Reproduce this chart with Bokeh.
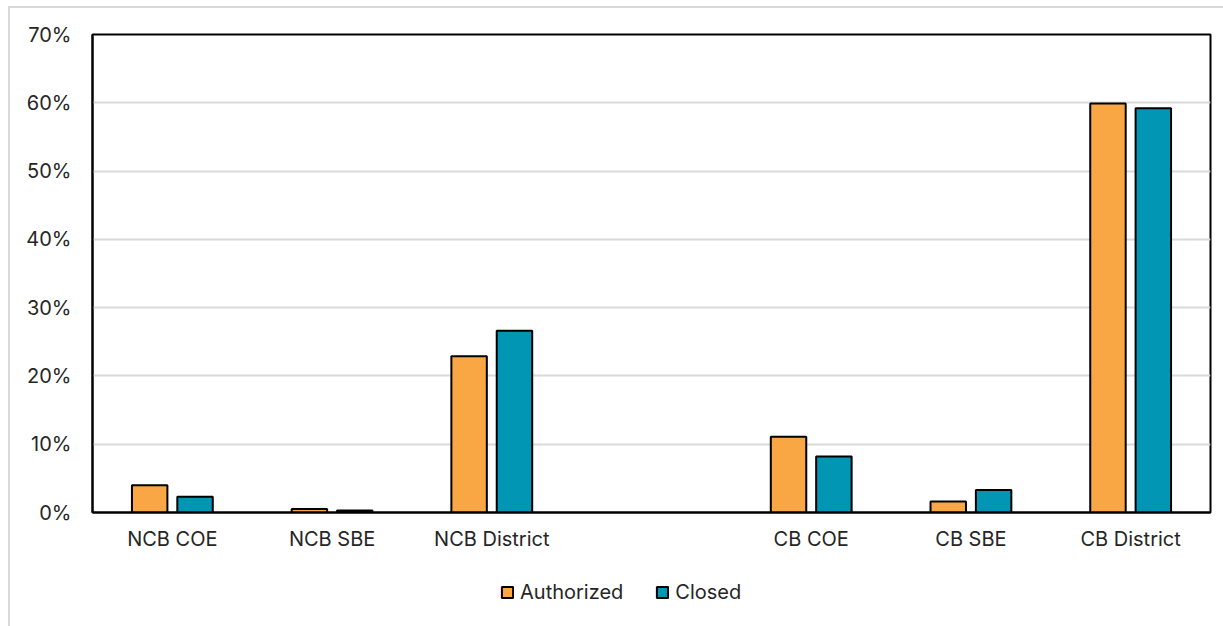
from bokeh.plotting import figure
from bokeh.layouts import column
from bokeh.models import FactorRange, Legend, LegendItem, PrintfTickFormatter, ColumnDataSource, FixedTicker
from bokeh.transform import dodge
from bokeh.embed import file_html
from bokeh.resources import INLINE

# Slot order along the axis; the blank slot separates the NCB and CB groups
axis_factors = ["NCB COE", "NCB SBE", "NCB District", " ", "CB COE", "CB SBE", "CB District"]

categories = ["NCB COE", "NCB SBE", "NCB District", "CB COE", "CB SBE", "CB District"]
authorized = [4.0, 0.5, 22.9, 11.1, 1.6, 59.9]
closed = [2.3, 0.3, 26.6, 8.2, 3.3, 59.2]
series_names = ["Authorized", "Closed"]

ORANGE = "#F9A645"
TEAL = "#0096B4"
FONT = "Inter"
TEXT = "#262626"

src = ColumnDataSource(dict(cat=categories, auth=authorized, closed=closed))

p = figure(
    width=1214, height=545,
    x_range=FactorRange(factors=axis_factors),
    y_range=(0, 70),
    output_backend="svg", toolbar_location=None,
    min_border_left=82, min_border_right=14, min_border_top=26, min_border_bottom=40,
)

p.vbar(x=dodge("cat", -0.142, range=p.x_range), top="auth", width=0.222, source=src,
       fill_color=ORANGE, line_color="black", line_width=2)
p.vbar(x=dodge("cat", 0.142, range=p.x_range), top="closed", width=0.222, source=src,
       fill_color=TEAL, line_color="black", line_width=2)

p.outline_line_color = "black"
p.outline_line_width = 2

p.xgrid.grid_line_color = None
p.ygrid.grid_line_color = "#d9d9d9"
p.ygrid.grid_line_width = 2
p.yaxis.ticker = FixedTicker(ticks=[0, 10, 20, 30, 40, 50, 60, 70])
p.yaxis.formatter = PrintfTickFormatter(format="%d%%")

for ax in (p.xaxis, p.yaxis):
    ax.axis_line_color = "black"
    ax.axis_line_width = 2
    ax.major_tick_line_color = None
    ax.minor_tick_line_color = None
    ax.major_label_text_font = FONT
    ax.major_label_text_font_size = "20px"
    ax.major_label_text_color = TEXT

p.yaxis.major_label_standoff = 15
p.xaxis.major_label_standoff = 8

# Legend strip under the chart; its swatches reuse the bar styling
leg = figure(
    width=1214, height=75, x_range=(0, 1), y_range=(0, 1),
    output_backend="svg", toolbar_location=None,
    x_axis_location=None, y_axis_location=None,
    min_border=0, outline_line_color=None,
)
leg.grid.visible = False
# swatch sources hold one bar placed below the visible range
off = ColumnDataSource(dict(x=[0.5], top=[-5], bottom=[-6]))
sw_auth = leg.vbar(x="x", top="top", bottom="bottom", width=0.1, source=off,
                   fill_color=ORANGE, line_color="black", line_width=2)
sw_closed = leg.vbar(x="x", top="top", bottom="bottom", width=0.1, source=off,
                     fill_color=TEAL, line_color="black", line_width=2)

legend = Legend(
    items=[LegendItem(label=series_names[0], renderers=[sw_auth]),
           LegendItem(label=series_names[1], renderers=[sw_closed])],
    orientation="horizontal", location=(408, 24),
    label_text_font=FONT, label_text_font_size="20px", label_text_color=TEXT,
    glyph_width=14, glyph_height=14, spacing=32, label_standoff=6,
    border_line_color=None, background_fill_alpha=0, padding=4, margin=0,
)
leg.add_layout(legend, "center")

page = column(
    p, leg,
    margin=(6, 0, 0, 8),
    styles={"border-left": "2px solid #d9d9d9", "border-top": "2px solid #d9d9d9"},
)

open("out.html", "w").write(file_html(page, INLINE))
